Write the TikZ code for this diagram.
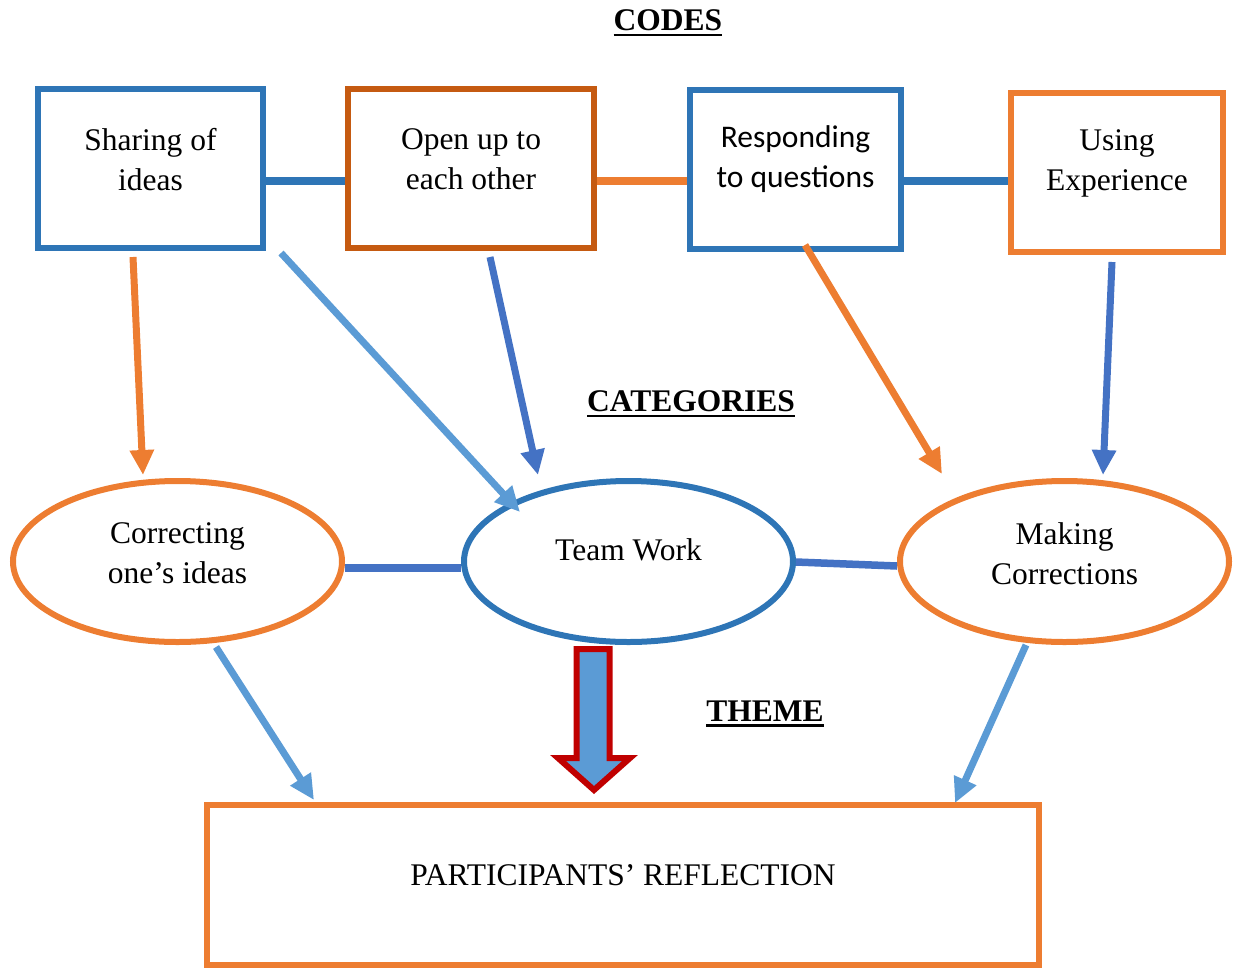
\documentclass[tikz,border=0pt]{standalone}
\usepackage{fontspec}
\setmainfont{Liberation Serif}
\newfontfamily\calibrifont{Carlito}
\usepackage{tikz}
\usetikzlibrary{shapes.geometric, arrows.meta}
\usetikzlibrary{calc}

\definecolor{codeblue}{HTML}{2E75B6}
\definecolor{rustorange}{HTML}{C55A11}
\definecolor{codeorange}{HTML}{ED7D31}
\definecolor{linkblue}{HTML}{4472C4}
\definecolor{paleblue}{HTML}{5B9BD5}
\definecolor{darkred}{HTML}{C00000}

\newcommand{\ulhead}[1]{\setbox0=\hbox{\textbf{#1}}\rlap{\rule[-5.5pt]{\wd0}{2.6pt}}\box0}

\tikzstyle{codebox} = [rectangle, 
line width=6pt, 
minimum width=225pt, 
minimum height=159pt, 
inner sep=0pt]
\tikzstyle{category} = [ellipse, 
line width=6pt, 
minimum width=329pt, 
minimum height=161pt, 
inner sep=0pt]
\tikzstyle{theme} = [rectangle, 
line width=6pt, 
minimum width=832pt, 
minimum height=160pt, 
inner sep=0pt, 
draw=codeorange]
\tikzstyle{boxtext} = [align=center, 
inner sep=0pt, 
font=\fontsize{31.5}{40}\selectfont]
\tikzstyle{heading} = [inner sep=0pt, 
font=\fontsize{31.5}{38}\selectfont]
\tikzstyle{link} = [line width=7.5pt]
\tikzstyle{arrow} = [line width=7pt, -{Triangle[length=25pt,width=23pt]}]

\begin{document}
\begin{tikzpicture}[x=1pt, y=-1pt]

        \useasboundingbox (0,0) rectangle (1234,970);

        \node (codes) [heading] at (668,23) {\ulhead{CODES}};
        \node (categories) [heading] at (691,404) {\ulhead{CATEGORIES}};
        \node (themehead) [heading] at (765,714) {\ulhead{THEME}};

        \node (sharing) [codebox, draw=codeblue] at (150.5,168.5) {};
        \node (openup) [codebox, draw=rustorange, minimum width=246pt] at (471,168.5) {};
        \node (responding) [codebox, draw=codeblue, minimum width=211pt] at (795.5,169.5) {};
        \node (using) [codebox, draw=codeorange, minimum width=212pt] at (1117,172.5) {};

        \node (sharingtxt) [boxtext] at ($(sharing)+(0,-9)$) 
        {Sharing of\\ideas};
        \node (openuptxt) [boxtext] at ($(openup)+(0,-9)$) 
        {Open up to\\each other};
        \node (respondingtxt) [boxtext, font=\calibrifont\fontsize{31.5}{40}\selectfont] at ($(responding)+(0,-10)$) 
        {Responding\\to questions};
        \node (usingtxt) [boxtext] at ($(using)+(0,-9)$) 
        {Using\\Experience};

        \node (correcting) [category, draw=codeorange] at (177.5,561.5) {};
        \node (teamwork) [category, draw=codeblue] at (628.5,561.5) {};
        \node (making) [category, draw=codeorange] at (1064.5,561.5) {};

        \node (correctingtxt) [boxtext] at ($(correcting)+(0,-8)$) 
        {Correcting\\one’s ideas};
        \node (teamworktxt) [boxtext] at ($(teamwork)+(0,-12)$) 
        {Team Work};
        \node (makingtxt) [boxtext] at ($(making)+(0,-8)$) 
        {Making\\Corrections};

        \node (reflection) [theme] at (623,885) {};
        \node (reflectiontxt) [boxtext] at ($(reflection)+(0,-10)$) 
        {PARTICIPANTS’ REFLECTION};

        \draw [link, codeblue] ($(sharing.east)+(0,12.5)$) -- ($(openup.west)+(0,12.5)$);
        \draw [link, codeorange] ($(openup.east)+(0,12.5)$) -- ($(responding.west)+(0,11.5)$);
        \draw [link, codeblue] ($(responding.east)+(0,11.5)$) -- ($(using.west)+(0,8.5)$);
        \draw [link, linkblue] ($(correcting.east)+(0,6.5)$) -- ($(teamwork.west)+(0,6.5)$);
        \draw [link, linkblue] ($(teamwork.east)+(0,0.5)$) -- ($(making.west)+(0,4.5)$);

        \draw [arrow, codeorange] ($(sharing.south)+(-17.5,6)$) -- ($(correcting.north)+(-34.5,-3)$);
        \draw [arrow, paleblue] ($(sharing.south east)+(15,2)$) -- ($(teamwork.center)+(-108.5,-49.5)$);
        \draw [arrow, linkblue] ($(openup.south)+(19,6)$) -- ($(teamwork.north)+(-90.5,-3)$);
        \draw [arrow, codeorange] ($(responding.south)+(9.5,-7)$) -- ($(making.north)+(-122.5,-4)$);
        \draw [arrow, linkblue] ($(using.south)+(-5,7)$) -- ($(making.north)+(38.5,-3)$);
        \draw [arrow, paleblue] ($(correcting.south)+(38.5,2)$) -- ($(reflection.north west)+(110,-2)$);
        \draw [arrow, paleblue] ($(making.south)+(-38.5,0)$) -- ($(reflection.north east)+(-87,1)$);

        % block arrow down to the theme
        \draw [line width=6pt, draw=darkred, fill=paleblue, line join=miter]
        ($(teamwork.south)+(-52,4)$) -- ++(33,0) -- ++(0,109) -- ++(20.5,0) 
        -- ++(-36,32) -- ++(-36,-32) -- ++(18.5,0) -- cycle;

        \end{tikzpicture}
\end{document}
